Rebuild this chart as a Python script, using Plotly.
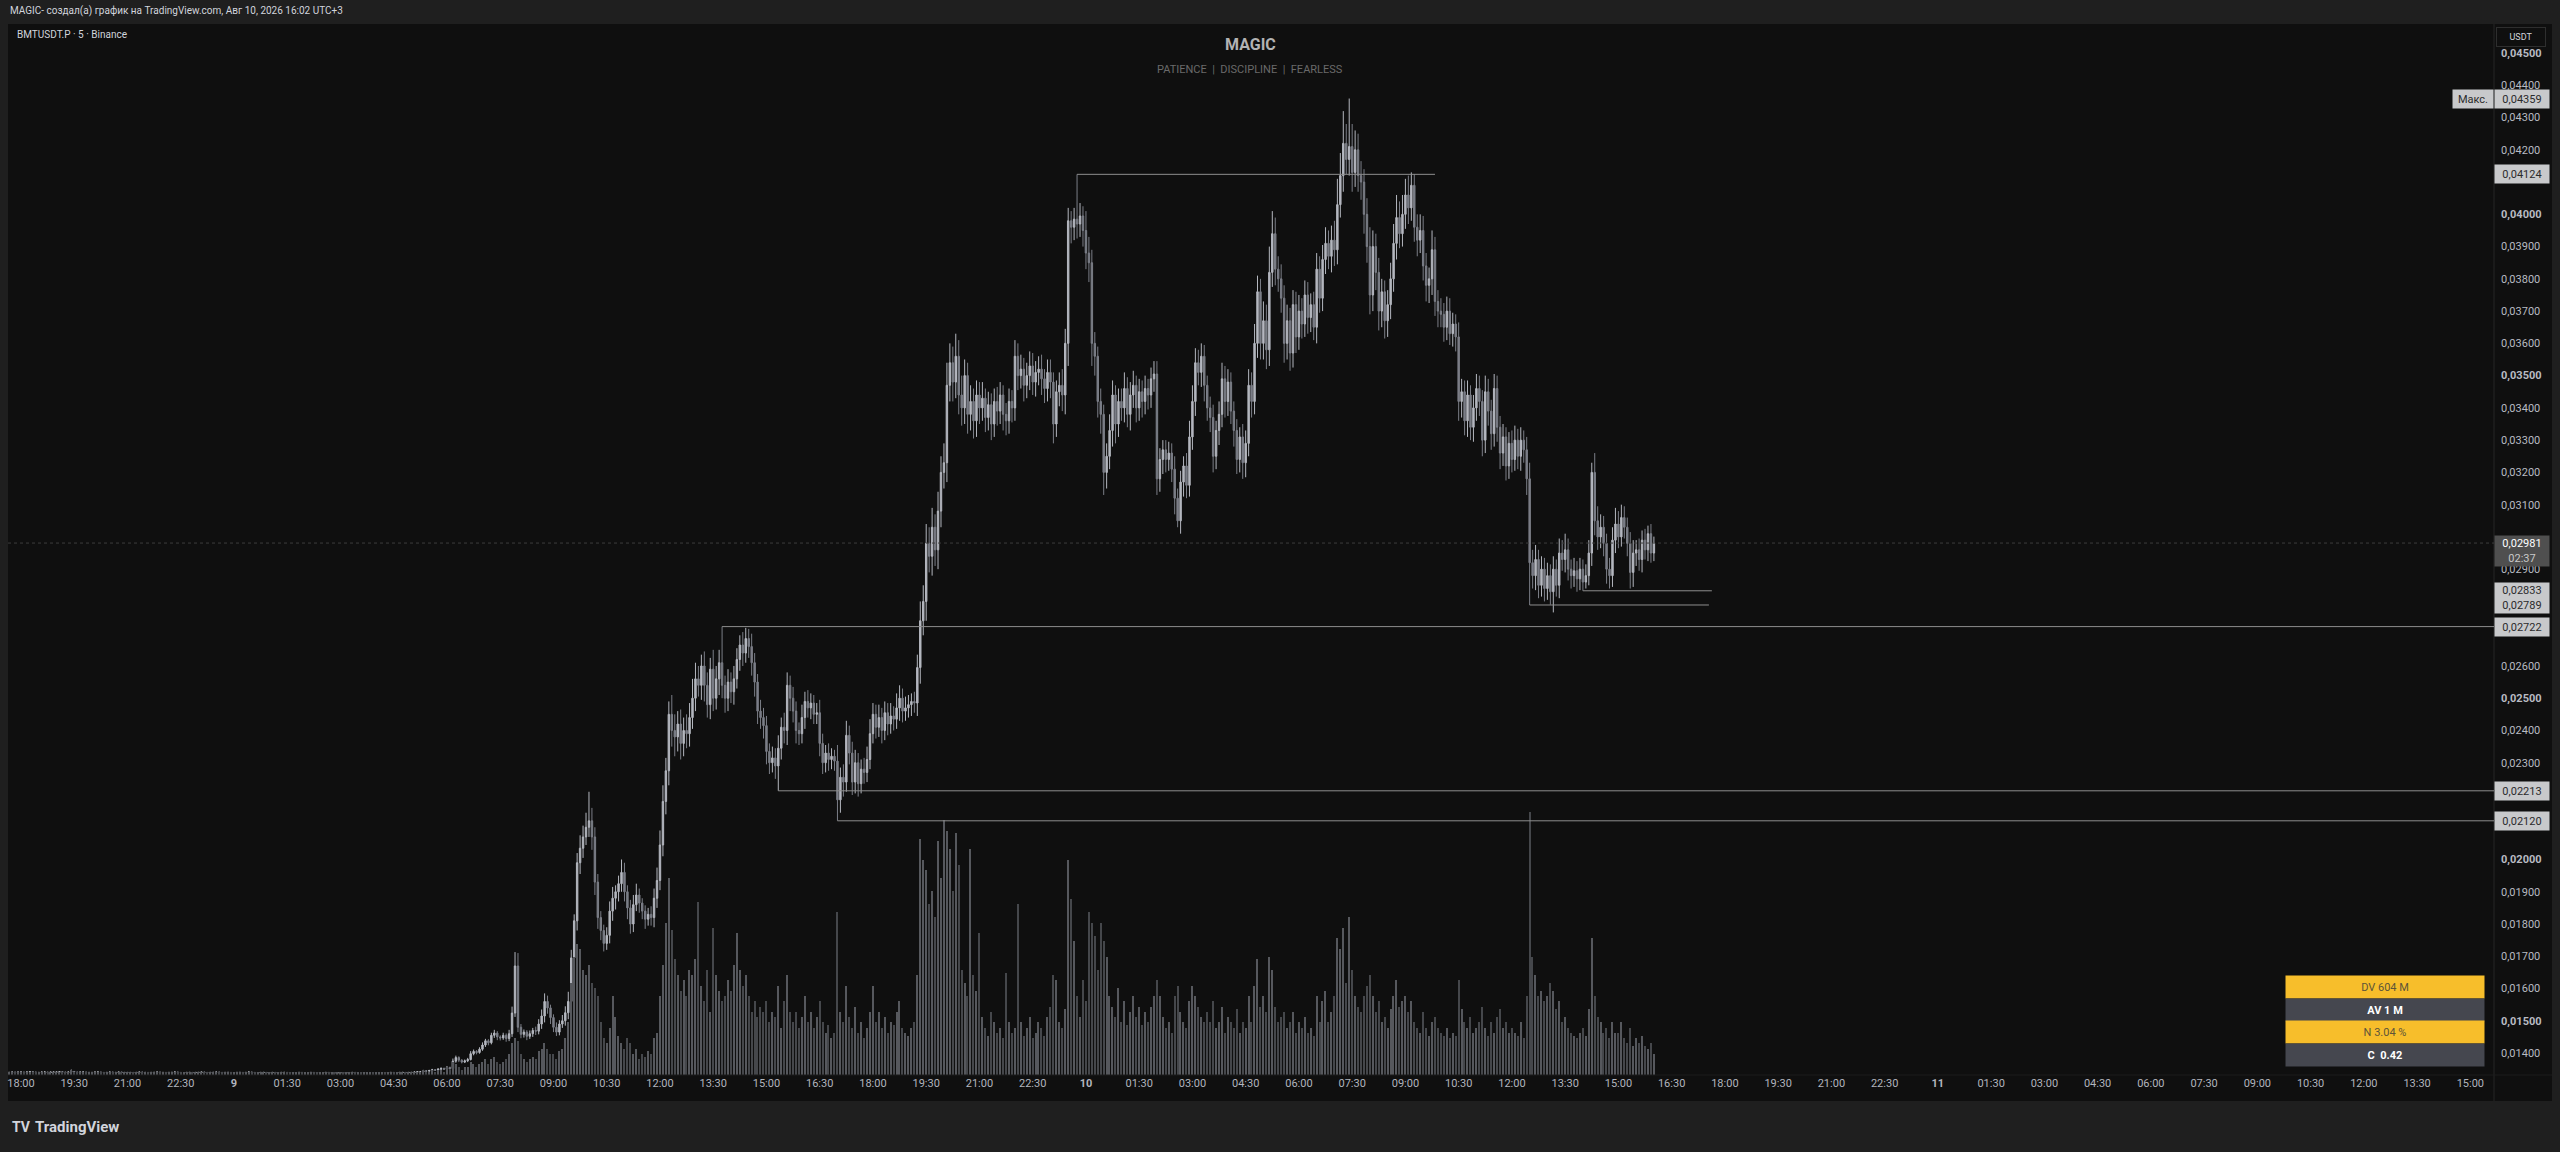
import pandas as pd
import plotly.graph_objects as go

# BMTUSDT.P, 5-minute candles, prices in 1e-5 USDT, first bar 2026-08-08 17:40
first_open = 1340
closes = [
    1340, 1341, 1340, 1341,                                              # 8th 17:40
    1341, 1340, 1341, 1342, 1341, 1340, 1340, 1341, 1341, 1340, 1341, 1341,  # 18h
    1341, 1342, 1341, 1340, 1341, 1343, 1341, 1340, 1341, 1341, 1340, 1340,  # 19h
    1340, 1341, 1341, 1340, 1339, 1340, 1341, 1340, 1340, 1341, 1340, 1340,  # 20h
    1340, 1340, 1339, 1340, 1341, 1340, 1340, 1339, 1340, 1340, 1341, 1340,  # 21h
    1340, 1339, 1340, 1340, 1341, 1340, 1339, 1339, 1340, 1340, 1339, 1340,  # 22h
    1340, 1341, 1340, 1339, 1340, 1340, 1341, 1340, 1339, 1340, 1340, 1339,  # 23h
    1339, 1340, 1340, 1339, 1340, 1341, 1340, 1339, 1339, 1340, 1340, 1339,  # 9th 00h
    1339, 1340, 1339, 1339, 1340, 1340, 1339, 1338, 1339, 1339, 1340, 1339,  # 01h
    1339, 1339, 1340, 1339, 1338, 1339, 1339, 1340, 1339, 1339, 1338, 1339,  # 02h
    1339, 1338, 1339, 1339, 1340, 1339, 1339, 1338, 1339, 1339, 1339, 1338,  # 03h
    1338, 1339, 1339, 1338, 1339, 1340, 1339, 1339, 1340, 1340, 1339, 1340,  # 04h
    1340, 1341, 1342, 1342, 1345, 1344, 1346, 1348, 1347, 1350, 1352, 1350,  # 05h
    1355, 1352, 1375, 1386, 1378, 1372, 1376, 1380, 1398, 1405, 1402, 1412,  # 06h
    1425, 1438, 1432, 1455, 1462, 1450, 1447, 1455, 1445, 1460, 1524, 1670,  # 07h
    1480, 1458, 1465, 1452, 1460, 1470, 1468, 1490, 1515, 1560, 1540, 1510,  # 08h
    1480, 1465, 1490, 1500, 1525, 1560, 1695, 1810, 1990, 2035, 2070, 2100,  # 09h
    2120, 2070, 1930, 1820, 1780, 1740, 1765, 1840, 1880, 1900, 1925, 1960,  # 10h
    1900, 1850, 1800, 1860, 1890, 1865, 1840, 1815, 1830, 1820, 1880, 1935,  # 11h
    2045, 2180, 2275, 2450, 2400, 2380, 2420, 2360, 2400, 2390, 2440, 2500,  # 12h
    2560, 2540, 2600, 2540, 2480, 2590, 2500, 2560, 2610, 2540, 2500, 2550,  # 13h
    2520, 2560, 2620, 2665, 2640, 2685, 2660, 2610, 2550, 2460, 2440, 2415,  # 14h
    2335, 2300, 2315, 2290, 2345, 2410, 2400, 2540, 2500, 2460, 2400, 2390,  # 15h
    2440, 2490, 2470, 2485, 2450, 2455, 2360, 2300, 2330, 2310, 2320, 2305,  # 16h
    2185, 2255, 2240, 2385, 2330, 2240, 2300, 2235, 2280, 2270, 2310, 2390,  # 17h
    2450, 2410, 2440, 2400, 2455, 2420, 2445, 2435, 2470, 2500, 2460, 2470,  # 18h
    2480, 2490, 2485, 2595, 2740, 2800, 2980, 2940, 3030, 2960, 3080, 3200,  # 19h
    3230, 3470, 3540, 3480, 3560, 3440, 3400, 3500, 3380, 3420, 3360, 3440,  # 20h
    3400, 3430, 3370, 3410, 3350, 3420, 3390, 3440, 3380, 3360, 3420, 3400,  # 21h
    3560, 3500, 3520, 3470, 3500, 3530, 3480, 3510, 3520, 3490, 3460, 3510,  # 22h
    3480, 3350, 3450, 3470, 3440, 3600, 3980, 3960, 3985, 3970, 3995, 3950,  # 23h
    3880, 3850, 3600, 3560, 3420, 3380, 3200, 3250, 3330, 3440, 3350, 3420,  # 10th 00h
    3400, 3460, 3380, 3440, 3470, 3400, 3450, 3420, 3460, 3440, 3490, 3505,  # 01h
    3180, 3240, 3270, 3240, 3260, 3210, 3120, 3050, 3170, 3220, 3160, 3310,  # 02h
    3420, 3540, 3510, 3560, 3470, 3400, 3370, 3250, 3330, 3380, 3490, 3420,  # 03h
    3480, 3390, 3330, 3240, 3310, 3230, 3290, 3470, 3420, 3600, 3760, 3600,  # 04h
    3670, 3580, 3820, 3940, 3830, 3800, 3740, 3600, 3670, 3570, 3720, 3620,  # 05h
    3700, 3660, 3750, 3680, 3720, 3650, 3830, 3740, 3860, 3910, 3870, 3920,  # 06h
    3890, 4030, 4120, 4220, 4170, 4210, 4130, 4200, 4120, 4100, 4000, 3900,  # 07h
    3750, 3900, 3820, 3700, 3760, 3670, 3720, 3800, 3910, 3990, 3940, 4000,  # 08h
    4060, 4020, 4090, 3960, 3920, 3950, 3840, 3780, 3800, 3890, 3730, 3700,  # 09h
    3690, 3650, 3700, 3630, 3660, 3620, 3420, 3450, 3360, 3440, 3340, 3400,  # 10h
    3460, 3420, 3300, 3450, 3390, 3320, 3460, 3340, 3260, 3310, 3220, 3290,  # 11h
    3240, 3300, 3250, 3300, 3270, 3180, 2920, 2880, 2930, 2850, 2900, 2840,  # 12h
    2880, 2830, 2900, 2850, 2950, 2930, 2960, 2900, 2880, 2895, 2870, 2900,  # 13h
    2860, 2880, 2950, 3200, 3050, 3000, 3030, 2980, 2900, 2880, 2990, 3040,  # 14h
    3000, 3060, 3030, 2980, 2890, 2950, 2960, 2930, 2990, 2960, 3010, 2950,  # 15h
    2981,                                                                # 16:00
]

# wick above / below the body, same units
wick_up = [
    1, 1, 1, 1,
    1, 1, 2, 1, 1, 1, 1, 1, 2, 1, 1, 1,
    1, 2, 1, 1, 2, 6, 1, 1, 1, 1, 1, 1,
    1, 1, 1, 1, 1, 1, 1, 1, 1, 1, 1, 1,
    1, 1, 1, 1, 1, 1, 1, 1, 1, 1, 1, 1,
    1, 1, 1, 1, 2, 1, 1, 1, 1, 1, 1, 1,
    1, 1, 1, 1, 1, 1, 1, 1, 1, 1, 1, 1,
    1, 1, 1, 1, 1, 2, 1, 1, 1, 1, 1, 1,
    1, 1, 1, 1, 1, 1, 1, 1, 1, 1, 1, 1,
    1, 1, 1, 1, 1, 1, 1, 1, 1, 1, 1, 1,
    1, 1, 1, 1, 1, 1, 1, 1, 1, 1, 1, 1,
    1, 1, 1, 1, 1, 1, 1, 1, 1, 1, 1, 1,
    1, 2, 2, 1, 3, 2, 2, 3, 2, 3, 4, 3,
    5, 3, 8, 6, 4, 3, 4, 5, 8, 6, 4, 6,
    8, 6, 5, 8, 10, 6, 5, 8, 6, 12, 20, 43,
    40, 10, 8, 6, 10, 8, 12, 15, 20, 25, 18, 10,
    10, 15, 12, 18, 20, 30, 25, 20, 30, 40, 35, 45,
    90, 40, 30, 25, 20, 18, 25, 30, 35, 20, 25, 40,
    30, 20, 25, 30, 35, 20, 15, 18, 20, 25, 30, 40,
    45, 50, 40, 40, 60, 50, 40, 45, 40, 50, 45, 60,
    50, 40, 35, 45, 40, 35, 60, 40, 40, 112, 30, 40,
    30, 40, 35, 30, 40, 33, 30, 40, 30, 25, 35, 30,
    30, 25, 35, 30, 40, 30, 45, 40, 30, 35, 30, 25,
    40, 30, 35, 30, 25, 30, 40, 30, 25, 30, 25, 20,
    50, 30, 40, 45, 30, 35, 40, 30, 30, 35, 40, 45,
    35, 30, 40, 30, 35, 30, 40, 30, 45, 40, 30, 35,
    30, 25, 30, 40, 60, 50, 60, 50, 60, 40, 60, 50,
    60, 70, 60, 50, 70, 50, 60, 50, 40, 50, 40, 45,
    40, 50, 30, 40, 35, 40, 45, 40, 30, 35, 40, 35,
    50, 40, 45, 35, 40, 45, 40, 35, 40, 45, 30, 40,
    40, 30, 35, 40, 50, 45, 40, 30, 35, 139, 40, 30,
    60, 50, 40, 35, 30, 40, 30, 40, 50, 45, 30, 40,
    40, 50, 35, 40, 45, 30, 40, 35, 40, 30, 35, 40,
    40, 35, 30, 30, 35, 30, 40, 30, 35, 30, 40, 50,
    50, 45, 40, 40, 35, 30, 35, 40, 30, 40, 50, 40,
    40, 30, 30, 35, 30, 40, 40, 50, 40, 60, 50, 40,
    60, 50, 80, 70, 50, 40, 45, 40, 50, 40, 45, 40,
    50, 40, 45, 40, 35, 40, 50, 40, 45, 50, 40, 45,
    60, 80, 70, 100, 60, 149, 70, 60, 50, 45, 40, 50,
    60, 50, 40, 45, 40, 35, 45, 50, 60, 70, 50, 60,
    50, 60, 40, 35, 40, 50, 45, 40, 35, 60, 40, 35,
    40, 35, 45, 40, 35, 30, 45, 40, 35, 45, 30, 40,
    45, 40, 35, 50, 40, 35, 45, 40, 35, 40, 30, 35,
    40, 45, 35, 40, 30, 40, 50, 40, 45, 30, 40, 35,
    40, 35, 40, 30, 45, 40, 50, 35, 30, 40, 30, 35,
    30, 35, 40, 30, 60, 45, 40, 35, 30, 35, 40, 50,
    40, 40, 35, 30, 35, 40, 30, 35, 30, 35, 25, 30,
    20,
]
wick_dn = [
    1, 1, 1, 1,
    1, 1, 1, 1, 1, 2, 1, 1, 1, 1, 1, 1,
    1, 1, 1, 1, 1, 1, 1, 1, 1, 1, 1, 1,
    1, 1, 1, 1, 1, 1, 1, 1, 1, 1, 1, 1,
    1, 1, 1, 1, 1, 1, 1, 1, 1, 1, 1, 1,
    1, 1, 1, 1, 1, 1, 1, 1, 1, 1, 1, 1,
    1, 1, 1, 1, 1, 1, 1, 1, 1, 1, 1, 1,
    1, 1, 1, 1, 1, 1, 1, 1, 1, 1, 1, 1,
    1, 1, 1, 1, 1, 1, 1, 1, 1, 1, 1, 1,
    1, 1, 1, 1, 1, 1, 1, 1, 1, 1, 1, 1,
    1, 1, 1, 1, 1, 1, 1, 1, 1, 1, 1, 1,
    1, 1, 1, 1, 1, 1, 1, 1, 1, 1, 1, 1,
    1, 1, 2, 2, 1, 2, 1, 2, 2, 1, 2, 2,
    3, 4, 3, 5, 6, 4, 3, 4, 3, 5, 6, 4,
    5, 6, 8, 5, 8, 10, 8, 6, 10, 8, 10, 12,
    15, 12, 10, 12, 8, 10, 12, 10, 15, 20, 18, 20,
    15, 12, 10, 12, 15, 20, 25, 20, 30, 35, 30, 25,
    30, 40, 40, 35, 30, 25, 20, 25, 30, 35, 30, 25,
    30, 35, 30, 25, 20, 30, 25, 30, 20, 25, 30, 30,
    30, 35, 40, 45, 50, 60, 45, 50, 40, 45, 40, 35,
    40, 35, 45, 50, 40, 45, 40, 35, 50, 40, 45, 40,
    35, 40, 30, 35, 40, 30, 35, 40, 45, 40, 35, 40,
    40, 35, 30, 40, 77, 35, 40, 45, 40, 35, 40, 35,
    30, 35, 30, 35, 30, 30, 40, 35, 30, 35, 30, 30,
    65, 40, 45, 30, 35, 40, 35, 40, 30, 35, 30, 30,
    30, 35, 30, 40, 30, 35, 30, 35, 30, 40, 35, 30,
    30, 35, 30, 40, 50, 45, 60, 50, 60, 50, 60, 50,
    50, 60, 50, 60, 50, 60, 55, 50, 60, 50, 55, 50,
    50, 40, 45, 40, 50, 40, 45, 40, 50, 45, 40, 45,
    40, 45, 40, 50, 40, 45, 40, 45, 40, 50, 45, 40,
    50, 60, 40, 45, 50, 60, 70, 50, 40, 45, 40, 50,
    50, 60, 70, 60, 50, 60, 70, 50, 40, 50, 60, 40,
    40, 45, 40, 50, 40, 45, 40, 50, 40, 45, 40, 40,
    50, 40, 45, 40, 35, 40, 50, 20, 40, 45, 40, 35,
    40, 45, 40, 45, 50, 40, 45, 50, 40, 45, 40, 50,
    45, 40, 50, 45, 40, 50, 45, 40, 50, 40, 45, 50,
    50, 60, 50, 45, 50, 40, 45, 60, 50, 55, 45, 50,
    40, 45, 40, 50, 45, 40, 50, 45, 40, 45, 40, 50,
    50, 45, 40, 50, 45, 50, 60, 45, 50, 55, 60, 50,
    60, 50, 55, 60, 50, 55, 50, 45, 40, 50, 45, 40,
    45, 50, 40, 45, 50, 40, 45, 50, 55, 50, 45, 50,
    40, 45, 40, 35, 40, 45, 60, 50, 45, 50, 40, 45,
    40, 45, 50, 40, 45, 50, 40, 45, 50, 40, 45, 40,
    40, 35, 40, 45, 40, 50, 131, 40, 45, 40, 35, 40,
    35, 40, 64, 35, 40, 35, 40, 35, 40, 35, 40, 35,
    27, 20, 30, 40, 45, 40, 35, 40, 45, 40, 35, 40,
    35, 30, 35, 40, 50, 45, 40, 35, 40, 30, 35, 30,
    25,
]

# volume per bar, arbitrary units (100 = tallest bar)
volume = [
    1, 1, 1, 1,
    1, 1, 1, 1, 1, 1, 1, 1, 1, 1, 1, 1,
    1, 1, 1, 1, 1, 2, 1, 1, 1, 1, 1, 1,
    1, 1, 1, 1, 1, 1, 1, 1, 1, 1, 1, 1,
    1, 1, 1, 1, 1, 1, 1, 1, 1, 1, 1, 1,
    1, 1, 1, 1, 1, 1, 1, 1, 1, 1, 1, 1,
    1, 1, 1, 1, 1, 1, 1, 1, 1, 1, 1, 1,
    1, 1, 1, 1, 1, 1, 1, 1, 1, 1, 1, 1,
    1, 1, 1, 1, 1, 1, 1, 1, 1, 1, 1, 1,
    1, 1, 1, 1, 1, 1, 1, 1, 1, 1, 1, 1,
    1, 1, 1, 1, 1, 1, 1, 1, 1, 1, 1, 1,
    1, 1, 1, 1, 1, 1, 1, 1, 1, 1, 1, 1,
    1, 1, 1, 1, 2, 1, 1, 2, 1, 2, 2, 1,
    3, 2, 5, 4, 3, 2, 3, 3, 5, 4, 3, 4,
    5, 6, 4, 6, 7, 5, 4, 5, 6, 8, 12, 14,
    13, 8, 6, 5, 6, 7, 6, 9, 10, 12, 10, 8,
    8, 6, 9, 10, 14, 20, 35, 45, 50, 48, 40, 38,
    42, 35, 33, 30, 20, 14, 12, 18, 30, 22, 15, 12,
    10, 14, 12, 8, 10, 6, 8, 7, 9, 8, 14, 16,
    30, 42, 58, 75, 55, 44, 38, 32, 36, 30, 40, 38,
    44, 66, 34, 28, 40, 24, 56, 38, 32, 28, 30, 36,
    32, 42, 54, 40, 34, 38, 30, 24, 28, 22, 26, 24,
    28, 20, 24, 22, 34, 18, 28, 38, 24, 20, 24, 18,
    22, 30, 20, 24, 18, 22, 28, 20, 16, 19, 14, 16,
    62, 24, 20, 34, 22, 18, 26, 16, 20, 14, 18, 24,
    34, 20, 24, 18, 22, 16, 20, 19, 24, 28, 18, 16,
    15, 18, 20, 38, 90, 82, 78, 65, 70, 60, 89, 75,
    97, 93, 86, 70, 92, 80, 40, 35, 30, 86, 38, 32,
    54, 22, 18, 15, 24, 20, 16, 18, 14, 39, 20, 16,
    18, 65, 20, 15, 18, 22, 14, 16, 20, 18, 15, 22,
    26, 38, 36, 20, 18, 25, 82, 67, 51, 30, 22, 36,
    28, 62, 58, 53, 40, 58, 51, 45, 30, 26, 22, 33,
    20, 28, 19, 24, 30, 22, 26, 19, 24, 20, 26, 30,
    36, 30, 22, 18, 20, 16, 30, 34, 24, 20, 18, 28,
    34, 30, 26, 22, 20, 24, 20, 28, 18, 20, 26, 16,
    22, 20, 18, 25, 16, 20, 18, 30, 20, 34, 44, 26,
    30, 24, 45, 40, 26, 20, 22, 24, 18, 20, 24, 16,
    20, 18, 22, 16, 18, 15, 30, 20, 28, 32, 20, 24,
    30, 52, 48, 56, 35, 60, 40, 30, 26, 24, 30, 34,
    38, 30, 24, 28, 20, 22, 18, 25, 30, 36, 26, 28,
    30, 24, 28, 20, 18, 16, 24, 18, 15, 20, 22, 18,
    16, 15, 18, 14, 16, 15, 36, 25, 20, 18, 22, 16,
    18, 20, 26, 18, 15, 20, 16, 22, 25, 18, 20, 16,
    18, 16, 15, 20, 14, 30, 100, 45, 38, 30, 32, 28,
    30, 35, 32, 25, 28, 20, 22, 18, 16, 15, 14, 16,
    18, 15, 25, 52, 30, 22, 20, 16, 18, 14, 20, 16,
    16, 20, 14, 12, 18, 11, 14, 12, 15, 11, 10, 12,
    8,
]

# horizontal levels drawn on the chart (price, start, end)
level_price = [4124, 2722, 2213, 2120, 2833, 2789]
level_start = ["2026-08-09 23:45", "2026-08-09 13:45", "2026-08-09 15:20",
               "2026-08-09 17:00", "2026-08-10 14:00", "2026-08-10 12:30"]
level_end = ["2026-08-10 09:50", "2026-08-11 16:00", "2026-08-11 16:00",
             "2026-08-11 16:00", "2026-08-10 17:38", "2026-08-10 17:33"]

stats_labels = ["DV 604 M", "AV 1 M", "N 3.04 %", "C  0.42"]

UNIT = 1e-5
times = pd.date_range("2026-08-08 17:40", periods=len(closes), freq="5min")
opens = [first_open] + closes[:-1]
highs = [max(o, c) + w for o, c, w in zip(opens, closes, wick_up)]
lows = [min(o, c) - w for o, c, w in zip(opens, closes, wick_dn)]

x_range = ["2026-08-08 17:38", "2026-08-11 15:40"]
y_range = [0.01332, 0.0459]

tick_times = pd.date_range("2026-08-08 18:00", "2026-08-11 15:00", freq="90min")
tick_text = ["<b>%d</b>" % t.day if t.hour == 0 and t.minute == 0 else t.strftime("%H:%M")
             for t in tick_times]


def fmt(p):
    return ("%.5f" % p).replace(".", ",")


# price ticks, leaving out the ones hidden behind the price tags
tag_prices = [max(highs) * UNIT, closes[-1] * UNIT] + [p * UNIT for p in level_price]
price_ticks = [v / 1000 for v in range(14, 46)
               if all(abs(v / 1000 - t) > 0.00028 for t in tag_prices[1:])]
price_text = ["<b>%s</b>" % fmt(p) if round(p * 1000) % 5 == 0 else fmt(p) for p in price_ticks]

W, H = 2560, 1152
ML, MR, MT, MB = 8, 66, 24, 77
PW, PH = W - ML - MR, H - MT - MB


def px(x, y):
    return (x - ML) / PW, (H - MB - y) / PH


FONT = "Roboto"
UP, DOWN = "#b4b7bf", "#7b7e87"

fig = go.Figure()

fig.add_trace(go.Bar(
    x=times, y=volume, yaxis="y2",
    width=5 * 60 * 1000 * 0.42,
    marker=dict(color=["#56585d" if c >= o else "#45474b" for o, c in zip(opens, closes)],
                line=dict(width=0)),
    hoverinfo="skip", showlegend=False,
))

fig.add_trace(go.Candlestick(
    x=times,
    open=[v * UNIT for v in opens], high=[v * UNIT for v in highs],
    low=[v * UNIT for v in lows], close=[v * UNIT for v in closes],
    increasing=dict(line=dict(color=UP, width=1), fillcolor=UP),
    decreasing=dict(line=dict(color=DOWN, width=1), fillcolor=DOWN),
    whiskerwidth=0, hoverinfo="skip", showlegend=False,
))

shapes = []
# panel background (plot + axes strips)
x0, y0 = px(8, 1101)
x1, y1 = px(2552, 24)
shapes.append(dict(type="rect", xref="paper", yref="paper", x0=x0, x1=x1, y0=y0, y1=y1,
                   fillcolor="#0f0f0f", line=dict(width=0), layer="below"))
# axis separators
shapes.append(dict(type="line", xref="paper", yref="paper", x0=1, x1=1, y0=y0, y1=1,
                   line=dict(color="#262626", width=1)))
shapes.append(dict(type="line", xref="paper", yref="paper", x0=0, x1=x1, y0=0, y1=0,
                   line=dict(color="#1c1c1c", width=1)))
# current price dotted line
shapes.append(dict(type="line", xref="paper", yref="y", x0=0, x1=1,
                   y0=closes[-1] * UNIT, y1=closes[-1] * UNIT,
                   line=dict(color="#3c3c3c", width=1, dash="dot")))
for p, s, e in zip(level_price, level_start, level_end):
    shapes.append(dict(type="line", xref="x", yref="y", x0=s, x1=e, y0=p * UNIT, y1=p * UNIT,
                       line=dict(color="#8e8e8e", width=1)))

ann = []


def text_at(x, y, text, size, color, xanchor="left", **kw):
    ax, ay = px(x, y)
    ann.append(dict(xref="paper", yref="paper", x=ax, y=ay, text=text, showarrow=False,
                    xanchor=xanchor, yanchor="middle",
                    font=dict(family=FONT, size=size, color=color), **kw))


text_at(8, 11, "MAGIC- создал(а) график на TradingView.com, Авг 10, 2026 16:02 UTC+3", 10, "#d1d4dc")
text_at(15, 35, "BMTUSDT.P · 5 · Binance", 10, "#d1d4dc")
text_at(1250, 45, "<b>MAGIC</b>", 16, "#b3b3b3", xanchor="center")
text_at(1250, 69, "PATIENCE  |  DISCIPLINE  |  FEARLESS", 11, "#6a6a6a", xanchor="center")
text_at(2521, 37, "USDT", 9, "#d1d4dc", xanchor="center",
        bgcolor="#0f0f0f", bordercolor="#2e2e2e", borderwidth=1, width=46, height=16)
text_at(10, 1127, "<b>TV</b>", 14, "#d1d4dc")
text_at(33, 1127, "<b>TradingView</b>", 15, "#d1d4dc")


def tag(price, text, bg, fg, height=16, anchor="middle", shift=0):
    ann.append(dict(xref="paper", yref="y", x=1, y=price, text=text, showarrow=False,
                    xanchor="left", yanchor=anchor, yshift=shift, width=52, height=height,
                    bgcolor=bg, borderpad=1, align="center",
                    font=dict(family=FONT, size=11, color=fg)))


LIGHT, DARK_TXT = "#c8c9cb", "#2b2b2b"
max_high = max(highs) * UNIT
tag(max_high, fmt(max_high), LIGHT, DARK_TXT)
ann.append(dict(xref="paper", yref="y", x=1, y=max_high, text="Макс.", showarrow=False,
                xanchor="right", yanchor="middle", width=38, height=16, bgcolor=LIGHT,
                borderpad=1, font=dict(family=FONT, size=11, color=DARK_TXT)))
tag(level_price[0] * UNIT, fmt(level_price[0] * UNIT), LIGHT, DARK_TXT)
tag(closes[-1] * UNIT, "<span style='color:#ffffff'>%s</span><br><span style='color:#c8c8c8'>02:37</span>"
    % fmt(closes[-1] * UNIT), "#4f4f4f", "#ffffff", height=28, anchor="top", shift=8)
tag((level_price[4] + level_price[5]) / 2 * UNIT,
    "%s<br>%s" % (fmt(level_price[4] * UNIT), fmt(level_price[5] * UNIT)), LIGHT, DARK_TXT, height=28)
for p in level_price[1:4]:
    tag(p * UNIT, fmt(p * UNIT), LIGHT, DARK_TXT)

# stats table, bottom right
row_bg = ["#f7be2b", "#45474f", "#f7be2b", "#45474f"]
row_fg = ["#5d5439", "#ffffff", "#5d5439", "#ffffff"]
for i, (lbl, bg, fg) in enumerate(zip(stats_labels, row_bg, row_fg)):
    cx, cy = px(2385, 987 + i * 22.7)
    txt = lbl if fg != "#ffffff" else "<b>%s</b>" % lbl
    ann.append(dict(xref="paper", yref="paper", x=cx, y=cy, text=txt, showarrow=False,
                    xanchor="center", yanchor="middle", width=196, height=20, borderpad=1,
                    bgcolor=bg, font=dict(family=FONT, size=11, color=fg)))

fig.update_layout(
    width=W, height=H, autosize=False,
    margin=dict(l=ML, r=MR, t=MT, b=MB, pad=0),
    paper_bgcolor="#1f1f1f", plot_bgcolor="#0f0f0f",
    showlegend=False, bargap=0,
    xaxis=dict(type="date", range=x_range, tickvals=list(tick_times), ticktext=tick_text,
               showgrid=False, zeroline=False, showline=False, ticks="",
               tickfont=dict(family=FONT, size=11, color="#b2b5be"),
               rangeslider=dict(visible=False), fixedrange=True),
    yaxis=dict(side="right", range=y_range, tickvals=price_ticks, ticktext=price_text,
               showgrid=False, zeroline=False, showline=False, ticks="",
               ticklabelstandoff=6,
               tickfont=dict(family=FONT, size=11, color="#b8bbc2"), fixedrange=True),
    yaxis2=dict(overlaying="y", range=[0, 400], visible=False, fixedrange=True),
    shapes=shapes, annotations=ann,
)

fig.write_html("out.html", config={"displayModeBar": False},
               post_script="document.body.style.margin='0';")
